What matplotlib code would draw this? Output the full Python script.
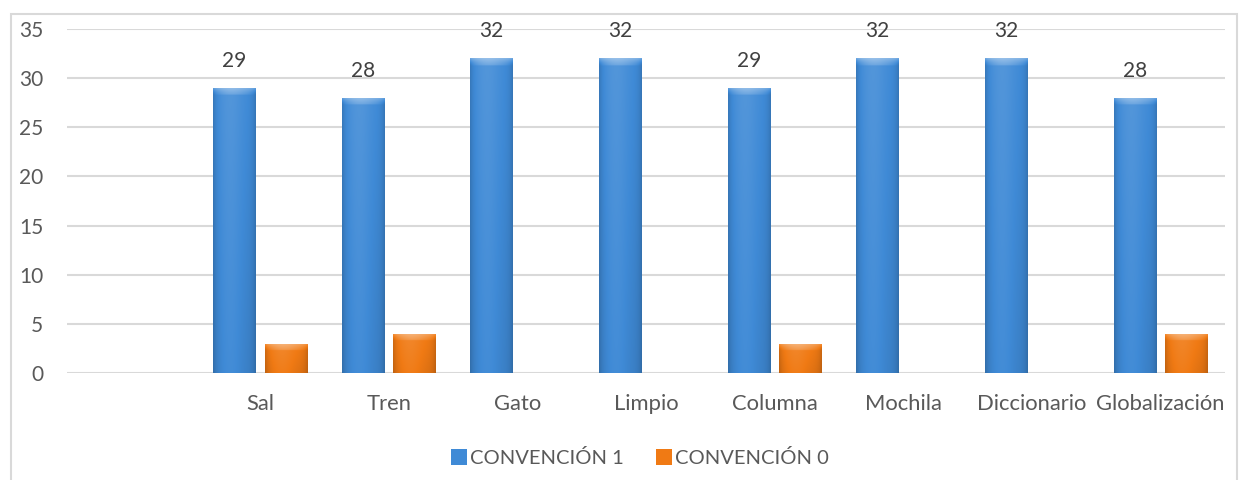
import numpy as np
import matplotlib
matplotlib.use("Agg")
import matplotlib.pyplot as plt
from matplotlib.patches import Rectangle
from matplotlib.colors import to_rgb

plt.rcParams['font.family'] = ['Lato', 'DejaVu Sans']

categories = ["", "Sal", "Tren", "Gato", "Limpio", "Columna", "Mochila", "Diccionario", "Globalización"]
conv1 = [0, 29, 28, 32, 32, 29, 32, 32, 28]
conv0 = [0, 3, 4, 0, 0, 3, 0, 0, 4]
series_names = ["CONVENCIÓN 1", "CONVENCIÓN 0"]
yticks = [0, 5, 10, 15, 20, 25, 30, 35]

blue = "#3F8AD6"
orange = "#F07A14"
text_color = "#595959"
grid_color = "#D9D9D9"

W, H = 1248, 480
fig = plt.figure(figsize=(W / 100, H / 100), dpi=100)
fig.patch.set_facecolor("white")

# outer chart frame
fig.add_artist(Rectangle((11 / W, -0.05), (1237 - 11) / W, 1.05 - 14 / H,
                         transform=fig.transFigure, fill=False,
                         edgecolor=grid_color, linewidth=1.5))

left, right = 67 / W, 1225 / W
bottom, top = 1 - 373 / H, 1 - 29 / H
ax = fig.add_axes([left, bottom, right - left, top - bottom])

x = np.arange(len(categories))
bw = 0.33
off = 0.2


def gradient_bar(ax, rect, color, bevel_units):
    x0, y0 = rect.get_x(), rect.get_y()
    w, h = rect.get_width(), rect.get_height()
    if h <= 0:
        return
    ny, nx = 300, 60
    u = np.linspace(0, 1, nx)
    prof = 0.10 * np.exp(-((u - 0.40) / 0.30) ** 2) - 0.14 * (np.abs(u - 0.5) * 2) ** 6
    v = np.linspace(1, 0, ny)
    base = np.array(to_rgb(color))
    img = np.zeros((ny, nx, 3))
    for i, vv in enumerate(v):
        depth = h - vv * h
        vert = -0.08 * (1 - vv)
        band = 0.0
        if depth < bevel_units:
            t = depth / bevel_units
            # bevel: lighter in the middle, fading at the sides
            band = 0.35 * (1 - 0.6 * t) * (1 - (np.abs(u - 0.5) * 2) ** 2 * t)
        f = prof + vert + band
        pos = np.clip(f, 0, None)[:, None]
        neg = np.clip(f, None, 0)[:, None]
        img[i] = base + (1 - base) * pos + base * neg
    im = ax.imshow(np.clip(img, 0, 1), extent=[x0, x0 + w, y0, y0 + h],
                   aspect='auto', zorder=3, interpolation='bilinear')
    im.set_clip_path(rect)


b1 = ax.bar(x - off, conv1, bw, color=blue, zorder=2, label=series_names[0])
b0 = ax.bar(x + off, conv0, bw, color=orange, zorder=2, label=series_names[1])

bevel = 0.7
for r in b1.patches:
    gradient_bar(ax, r, blue, bevel)
for r in b0.patches:
    gradient_bar(ax, r, orange, bevel)

for xi, v in zip(x, conv1):
    if v > 0:
        ax.annotate(str(v), (xi - off, v), xytext=(0, 17), textcoords='offset pixels',
                    ha='center', va='bottom', fontsize=15, color="#404040")

ax.set_xlim(-0.5, len(categories) - 0.5)
ax.set_ylim(0, 35)
ax.set_yticks(yticks)
ax.set_xticks(x)
ax.set_xticklabels(categories)
ax.yaxis.grid(True, color=grid_color, linewidth=1.5, zorder=0)
ax.set_axisbelow(True)
for s in ax.spines.values():
    s.set_visible(False)
ax.tick_params(axis='both', length=0, labelsize=15, labelcolor=text_color)
ax.tick_params(axis='x', labelsize=15.8)
ax.tick_params(axis='y', pad=17)
ax.tick_params(axis='x', pad=15)
ax.set_facecolor("none")

fig.legend(handles=[b1, b0], labels=series_names, loc='center',
           bbox_to_anchor=(640 / W, 1 - 458 / H), ncol=2, frameon=False,
           fontsize=14.5, labelcolor=text_color, handlelength=0.8, handleheight=0.8,
           handletextpad=0.15, columnspacing=1.6)

fig.savefig("out.png", dpi=100)
